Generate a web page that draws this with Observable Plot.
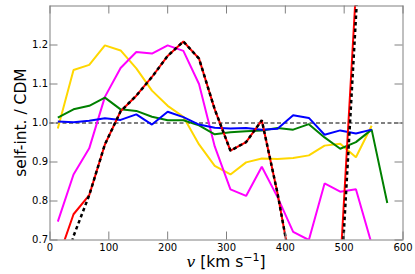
<!DOCTYPE html>
<html><head><meta charset="utf-8">
<script src="https://cdn.jsdelivr.net/npm/d3@7"></script>
<script src="https://cdn.jsdelivr.net/npm/@observablehq/plot@0.6"></script>
<style>body{margin:0;background:#fff;} svg{display:block}</style>
</head><body><div id="chart"></div>
<script>
// bin centres, km/s
const velocity = [13.3, 40, 66.7, 93.3, 120, 146.7, 173.3, 200, 226.7, 253.3, 280, 306.7, 333.3, 360, 386.7, 413.3, 440, 466.7, 493.3, 520, 546.7, 573.3];
const yellowSeries  = [0.986, 1.136, 1.149, 1.199, 1.186, 1.14, 1.083, 1.044, 1.016, 0.945, 0.89, 0.868, 0.899, 0.909, 0.908, 0.91, 0.917, 0.942, 0.947, 0.912, 0.993];
const magentaSeries = [0.747, 0.868, 0.935, 1.067, 1.141, 1.182, 1.178, 1.199, 1.185, 1.10, 0.94, 0.83, 0.813, 0.888, 0.81, 0.721, 0.70, 0.845, 0.824, 0.830, 0.69];
const greenSeries   = [1.014, 1.035, 1.044, 1.065, 1.035, 1.031, 1.016, 1.007, 1.007, 0.994, 0.971, 0.976, 0.979, 0.981, 0.987, 0.983, 0.997, 0.963, 0.934, 0.951, 0.983, 0.795];
const blueSeries    = [1.004, 1.002, 1.006, 1.012, 1.008, 1.022, 0.996, 1.029, 1.015, 0.996, 0.988, 0.986, 0.987, 0.983, 0.985, 1.02, 1.013, 0.97, 0.981, 0.973, 0.983];
const redSeries     = [0.65, 0.766, 0.815, 0.945, 1.03, 1.07, 1.118, 1.172, 1.209, 1.165, 1.035, 0.929, 0.951, 1.007, 0.82, 0.6, 0.5, 0.5, 0.63, 1.34, 2.0];
const blackSeries   = [0.55, 0.71, 0.815, 0.945, 1.03, 1.07, 1.118, 1.172, 1.209, 1.165, 1.035, 0.929, 0.951, 1.007, 0.82, 0.6, 0.5, 0.5, 0.555, 1.27, 2.0];
const xTicks = [0, 100, 200, 300, 400, 500, 600];
const yTicks = [0.7, 0.8, 0.9, 1.0, 1.1, 1.2];
const referenceLevel = [1.0];

const rows = (vals) => vals.map((y, i) => ({v: velocity[i], y}));

const W = 415, H = 274, mL = 49.5, mR = 12.5, mT = 5.5, mB = 34.5;
const xDom = [0, 600], yDom = [0.7, 1.3];
const tickPx = 8;
const xTickLen = (yDom[1] - yDom[0]) * tickPx / (H - mT - mB);
const yTickLen = (xDom[1] - xDom[0]) * tickPx / (W - mL - mR);
const gray = "#808080";
const lineOpts = {x: "v", y: "y", strokeWidth: 2, clip: true, strokeLinecap: "butt", strokeLinejoin: "miter"};

const plot = Plot.plot({
  width: W, height: H,
  marginLeft: mL, marginRight: mR, marginTop: mT, marginBottom: mB,
  style: {fontFamily: "'DejaVu Sans', sans-serif", fontSize: "10px", background: "#fff", color: "#000"},
  x: {domain: xDom, label: null},
  y: {domain: yDom, label: null},
  marks: [
    Plot.ruleY(referenceLevel, {stroke: "#000", strokeWidth: 1, strokeDasharray: "4,2.5"}),
    Plot.line(rows(yellowSeries), {...lineOpts, stroke: "#FFD700"}),
    Plot.line(rows(magentaSeries), {...lineOpts, stroke: "#FF00FF"}),
    Plot.line(rows(greenSeries), {...lineOpts, stroke: "#008000"}),
    Plot.line(rows(blueSeries), {...lineOpts, stroke: "#0000FF"}),
    Plot.line(rows(redSeries), {...lineOpts, stroke: "#FF0000"}),
    Plot.line(rows(blackSeries), {...lineOpts, stroke: "#000", strokeWidth: 2.5, strokeDasharray: "3.5,3"}),
    Plot.ruleX(xTicks, {y1: yDom[0], y2: yDom[0] + xTickLen, stroke: gray}),
    Plot.ruleX(xTicks, {y1: yDom[1] - xTickLen, y2: yDom[1], stroke: gray}),
    Plot.ruleY(yTicks, {x1: xDom[0], x2: xDom[0] + yTickLen, stroke: gray}),
    Plot.ruleY(yTicks, {x1: xDom[1] - yTickLen, x2: xDom[1], stroke: gray}),
    Plot.frame({stroke: gray}),
    Plot.axisX(xTicks, {tickSize: 0, tickPadding: 4, label: null}),
    Plot.axisY(yTicks, {tickSize: 0, tickPadding: 2, label: null, tickFormat: d => d.toFixed(1)})
  ]
});

const svg = d3.select(plot);
svg.append("text")
  .attr("transform", `translate(21,${(mT + H - mB) / 2}) rotate(-90)`)
  .attr("text-anchor", "middle")
  .attr("dominant-baseline", "central")
  .style("font-family", "'DejaVu Sans', sans-serif")
  .style("font-size", "15.5px")
  .text("self-int. / CDM");

const xl = svg.append("text")
  .attr("x", (mL + W - mR) / 2)
  .attr("y", 267)
  .attr("text-anchor", "middle")
  .style("font-family", "'DejaVu Sans', sans-serif")
  .style("font-size", "15.5px");
xl.append("tspan").style("font-family", "'DejaVu Serif', serif").style("font-style", "italic").text("v");
xl.append("tspan").text(" [km s");
xl.append("tspan").attr("dy", -6).style("font-size", "11px").text("\u22121");
xl.append("tspan").attr("dy", 6).text("]");

document.getElementById("chart").appendChild(plot);
</script>
</body></html>
